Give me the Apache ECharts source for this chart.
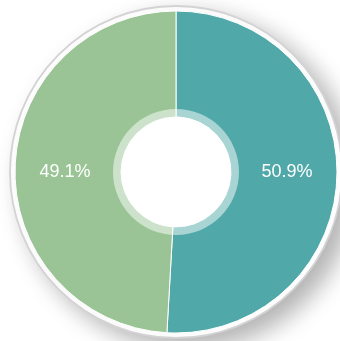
<!DOCTYPE html>
<html>
<head>
<meta charset="utf-8">
<script src="https://cdn.jsdelivr.net/npm/echarts@6/dist/echarts.min.js"></script>
<style>html,body{margin:0;padding:0;background:#fff;}#c{width:340px;height:341px;}</style>
</head>
<body>
<div id="c"></div>
<script>
var categories = ['A', 'B'];
var values = [50.9, 49.1];
var colors = ['#50a8a8', '#9ac495'];

var chart = echarts.init(document.getElementById('c'), null, {renderer: 'canvas'});
var center = [176, 172];
chart.setOption({
  animation: false,
  series: [
    {
      type: 'pie', silent: true, center: center, radius: [0, 166],
      label: {show: false}, labelLine: {show: false},
      itemStyle: {color: '#ffffff', borderColor: '#d4d2d4', borderWidth: 1.8,
        shadowBlur: 24, shadowOffsetX: 12, shadowOffsetY: 10, shadowColor: 'rgba(0,0,0,0.3)'},
      data: [{value: 1}]
    },
    {
      type: 'pie', center: center, radius: [55, 161], startAngle: 90, clockwise: true,
      itemStyle: {borderColor: '#ffffff', borderWidth: 1},
      label: {show: true, position: 'inside', color: '#ffffff', fontSize: 18,
        fontFamily: 'Liberation Sans, Arial, sans-serif',
        formatter: function (p) { return p.value.toFixed(1) + '%'; }},
      labelLayout: function (p) {
        return {dy: center[1] - (p.labelRect.y + p.labelRect.height / 2)};
      },
      labelLine: {show: false},
      data: categories.map(function (c, i) { return {name: c, value: values[i], itemStyle: {color: colors[i]}}; })
    },
    {
      type: 'pie', silent: true, center: center, radius: [55, 63],
      label: {show: false}, labelLine: {show: false},
      itemStyle: {color: 'rgba(255,255,255,0.5)'},
      data: [{value: 1}]
    }
  ]
});
</script>
</body>
</html>
